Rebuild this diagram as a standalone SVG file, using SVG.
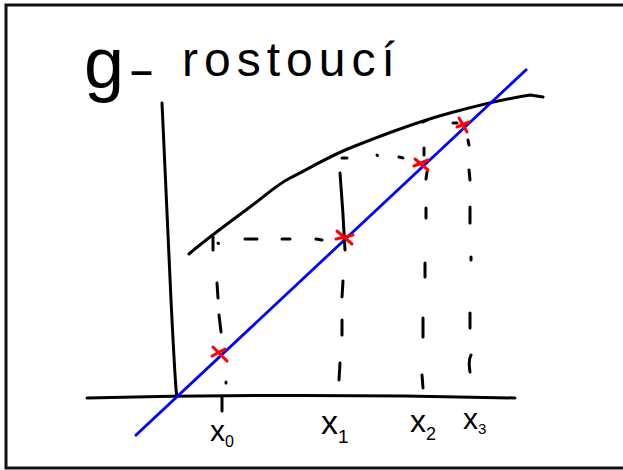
<svg xmlns="http://www.w3.org/2000/svg" width="623" height="470" viewBox="0 0 623 470">
<style>
.ink{fill:none;stroke:#000;stroke-width:3;stroke-linecap:round;stroke-linejoin:round}
.red{fill:none;stroke:#ff0000;stroke-width:3;stroke-linecap:round}
.t{font-family:"Liberation Sans",Arial,sans-serif;fill:#000}
</style>
<rect x="6" y="5" width="630" height="463" fill="#fff" stroke="#111" stroke-width="3"/>
<g id="title">
<text class="t" y="88"><tspan x="84" font-size="72">g</tspan><tspan x="128" y="86" font-size="48" textLength="27" lengthAdjust="spacingAndGlyphs">-</tspan><tspan x="182" y="76" font-size="48" letter-spacing="6">rostoucí</tspan></text>
</g>
<g id="axes">
<path class="ink" d="M162,103 Q166,200 171,300 T177,396"/>
<path class="ink" d="M87,398 Q300,393 515,398"/>
</g>
<g id="curve">
<path class="ink" d="M189,254 C205,240 230,222 250,207 C265,196 275,186 290,178 C310,168 330,156 350,148 C380,136 420,121 450,113 C480,105 510,98 530,95 L543,97"/>
</g>
<g id="line">
<line x1="135" y1="436" x2="527" y2="69" stroke="#0000ff" stroke-width="2.8"/>
</g>
<g id="guides" class="ink">
<path d="M213,237 L213,250"/>
<path d="M218,243 L218.5,243.5"/>
<path d="M245,239 L257,239 M282,239 L290,239 M316,239 L322,240"/>
<path d="M217,283 L218,298 M219,315 L221,332 M226,382 L226,383 M222,397 L222,411"/>
<path d="M340,173 Q343,210 345,250 M343,281 L342,297 M342,320 L342,335 M340,363 L339,380"/>
<path d="M342,158 L347,158 M377,155 L377.5,155.5 M399,157 L403,158"/>
<path d="M423,122 L427,120 M424,148 L424,155 M427,172 L426,179 M426,208 L426,218 M425,263 L425,277 M423,318 L423,337 M422,375 L423,388"/>
<path d="M453,123 L457,123 M468,140 L469,145 M469,170 L470,180 M470,207 L470,223 M471,257 L471,260 M470,313 L470,328 M471,355 Q468,360 470,372"/>
</g>
<g id="marks" class="red">
<path d="M213,347 L227,361 M212,356 L225,349"/>
<path d="M337,231 L352,244 M336,239 L353,235"/>
<path d="M415,159 L428,170 M414,166 L428,160"/>
<path d="M459,118 L467,132 M457,127 L469,122"/>
</g>
<g id="labels">
<text class="t" x="210" y="441" font-size="30">x<tspan dy="6" font-size="16">0</tspan></text>
<text class="t" x="321" y="434" font-size="34">x<tspan dy="9" font-size="19">1</tspan></text>
<text class="t" x="410" y="432" font-size="32">x<tspan dy="8" font-size="18">2</tspan></text>
<text class="t" x="463" y="429" font-size="30">x<tspan dy="5" font-size="15">3</tspan></text>
</g>
</svg>
